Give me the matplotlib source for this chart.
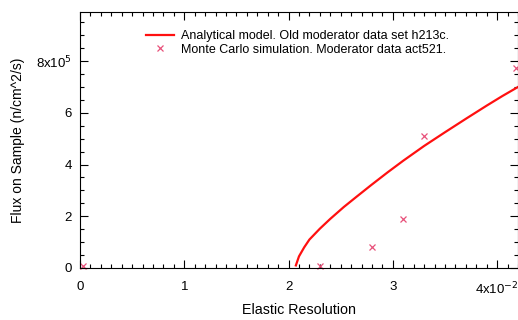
import matplotlib
matplotlib.use('Agg')
import matplotlib.pyplot as plt
from matplotlib.ticker import MultipleLocator, FuncFormatter

plt.rcParams['font.family'] = ['Liberation Sans', 'DejaVu Sans']

# analytical model (x in units of 1e-2, flux in units of 1e5 n/cm^2/s)
model_res = [2.07, 2.1, 2.15, 2.2, 2.3, 2.4, 2.53, 2.65, 2.79, 2.95, 3.1, 3.3, 3.5, 3.7, 3.9, 4.05, 4.2]
model_flux = [0.1, 0.45, 0.8, 1.1, 1.52, 1.9, 2.36, 2.75, 3.2, 3.7, 4.15, 4.72, 5.25, 5.77, 6.28, 6.65, 7.0]

# monte carlo points
mc_res = [0.03, 2.3, 2.8, 3.1, 3.3, 4.18]
mc_flux = [0.06, 0.08, 0.8, 1.9, 5.1, 7.75]

fig = plt.figure(figsize=(5.18, 3.2), dpi=100)
ax = fig.add_axes([0.1544, 0.1625, 0.8456, 0.8])

ax.plot(model_res, model_flux, color='#ff1010', lw=1.6,
        label='Analytical model. Old moderator data set h213c.')
ax.plot(mc_res, mc_flux, ls='none', marker='x', ms=5, mew=0.9, color='#e8507a',
        clip_on=False, label='Monte Carlo simulation. Moderator data act521.')

ax.set_xlim(0, 4.2)
ax.set_ylim(0, 9.9)

ax.xaxis.set_major_locator(MultipleLocator(1))
ax.xaxis.set_minor_locator(MultipleLocator(0.1))
ax.yaxis.set_major_locator(MultipleLocator(2))
ax.yaxis.set_minor_locator(MultipleLocator(0.5))


def xfmt(v, pos):
    if abs(v - 4) < 1e-6:
        return '4x10$^{-2}$'
    return '%d' % round(v)


def yfmt(v, pos):
    if abs(v - 8) < 1e-6:
        return '8x10$^{5}$'
    return '%d' % round(v)


ax.xaxis.set_major_formatter(FuncFormatter(xfmt))
ax.yaxis.set_major_formatter(FuncFormatter(yfmt))

ax.tick_params(which='both', direction='in', top=True, right=True, labelsize=9.5, width=0.8)
ax.tick_params(which='major', length=6)
ax.tick_params(which='minor', length=3)
ax.tick_params(axis='x', which='major', pad=9)
ax.tick_params(axis='y', which='major', pad=6)

ax.set_xlabel('Elastic Resolution', fontsize=10.3, labelpad=4)
ax.set_ylabel('Flux on Sample (n/cm^2/s)', fontsize=10, labelpad=8)

ax.legend(loc='upper left', bbox_to_anchor=(0.14, 0.948), frameon=False, fontsize=9,
          handlelength=2.2, handletextpad=0.6, labelspacing=0.1, borderaxespad=0)

plt.savefig('out.png', dpi=100)
